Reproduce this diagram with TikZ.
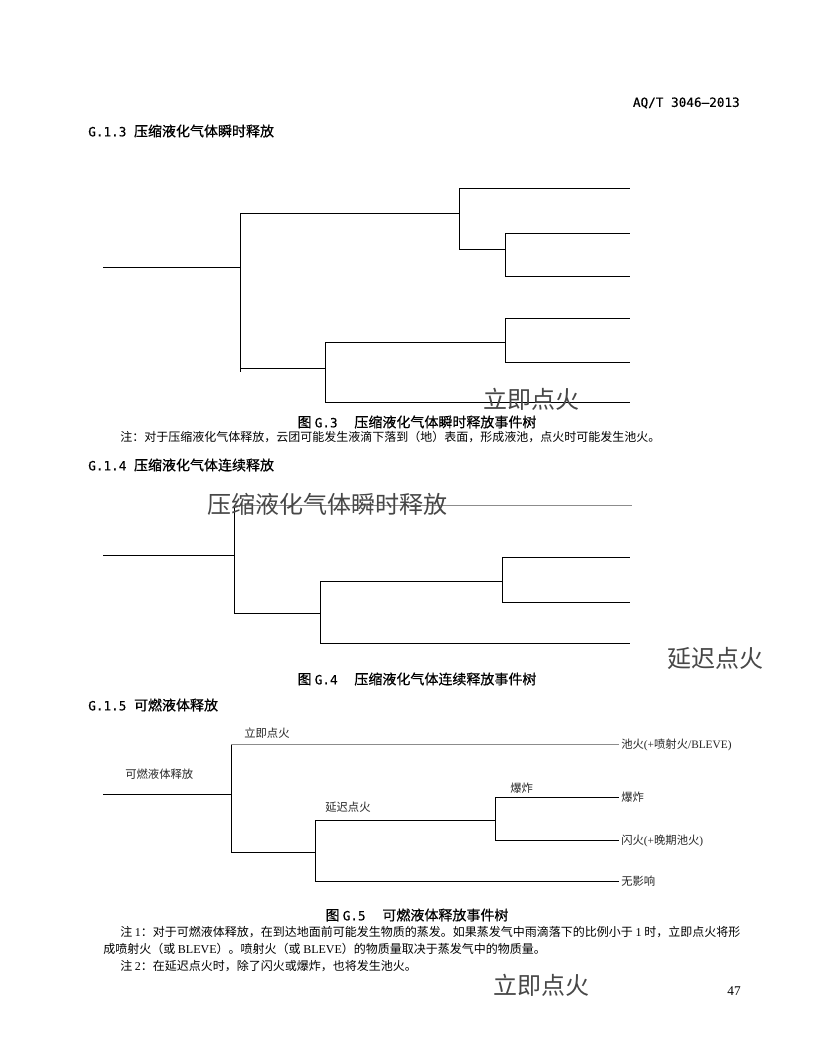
\documentclass[tikz,border=0pt]{standalone}
\usepackage{fontspec}
\setmainfont{Liberation Serif}
\newfontfamily\cjk{Noto Sans CJK SC}
\newfontfamily\cjkb[FakeBold=0.6]{Noto Sans CJK SC}
\newfontfamily\mono{DejaVu Sans Mono}
\newfontfamily\monob[FakeBold=0.4]{DejaVu Sans Mono}
\newcommand\C[1]{{\cjk #1}}
\newcommand\M[1]{{\monob\fontsize{9.5}{12}\selectfont #1}}
\tikzset{
  ln/.style={line width=0.7pt, black},
  faint/.style={line width=0.7pt, black!45},
  headtxt/.style={anchor=west, inner sep=0pt, font=\cjkb\fontsize{10.5}{12}\selectfont},
  captxt/.style={inner sep=0pt, font=\cjkb\fontsize{10.5}{12}\selectfont},
  notetxt/.style={anchor=west, inner sep=0pt, font=\fontsize{9}{11}\selectfont},
  bigtxt/.style={inner sep=0pt, font=\cjk\fontsize{18}{20}\selectfont, text=black!72},
  labtxt/.style={anchor=west, inner sep=0pt, font=\fontsize{8.5}{10}\selectfont, text=black!85},
}
\begin{document}
\begin{tikzpicture}[x=0.75pt, y=-0.75pt]
\fill[white] (0,0) rectangle (816,1056);
\useasboundingbox (0,0) rectangle (816,1056);

% header
\node[anchor=east, inner sep=0pt, font=\monob\fontsize{9.5}{12}\selectfont] (hdr) at (740,103) {AQ/T 3046—2013};

% ---------------- G.1.3 ----------------
\node[headtxt] (h1) at (88,131) {\M{G.1.3 }压缩液化气体瞬时释放};
\coordinate (a0) at (103,267);
\coordinate (a1) at (240,267);
\coordinate (a2) at (459,213);
\coordinate (a3) at (505,249);
\coordinate (a4) at (325,368);
\coordinate (a5) at (505,342);
\coordinate (as) at (240,372);
\coordinate (ae1) at (630,188);
\coordinate (ae2) at (630,233);
\coordinate (ae3) at (630,276);
\coordinate (ae4) at (630,318);
\coordinate (ae5) at (630,362);
\coordinate (ae6) at (630,402);
\draw[ln] (a0) -- (a1);
\draw[ln] (a1) |- (a2);
\draw[ln] (a1) -- (as);
\draw[ln] (a2) |- (ae1);
\draw[ln] (a2) |- (a3);
\draw[ln] (a3) |- (ae2);
\draw[ln] (a3) |- (ae3);
\draw[ln] (a1) |- (a4);
\draw[ln] (a4) |- (a5);
\draw[ln] (a5) |- (ae4);
\draw[ln] (a5) |- (ae5);
\draw[ln] (a4) |- (ae6);
\node[bigtxt] (b1) at (531,399) {立即点火};
\node[captxt] (c1) at (417,422) {图 \M{G.3}\hspace{1.2em}压缩液化气体瞬时释放事件树};
\node[notetxt] (n1) at (120,437) {\C{注：对于压缩液化气体释放，云团可能发生液滴下落到（地）表面，形成液池，点火时可能发生池火。}};

% ---------------- G.1.4 ----------------
\node[headtxt] (h2) at (88,465) {\M{G.1.4 }压缩液化气体连续释放};
\coordinate (b0) at (103,555);
\coordinate (b1j) at (234,555);
\coordinate (bt) at (234,505);
\coordinate (b2) at (320,613);
\coordinate (b3) at (502,581);
\coordinate (be1) at (632,505);
\coordinate (be2) at (630,557);
\coordinate (be3) at (630,602);
\coordinate (be4) at (630,643);
\draw[ln] (b0) -- (b1j);
\draw[ln] (b1j) -- (bt);
\draw[faint] (bt) -- (be1);
\draw[ln] (b1j) |- (b2);
\draw[ln] (b2) |- (b3);
\draw[ln] (b3) |- (be2);
\draw[ln] (b3) |- (be3);
\draw[ln] (b2) |- (be4);
\node[bigtxt] (b2t) at (327,504) {压缩液化气体瞬时释放};
\node[bigtxt] (b3t) at (715,658) {延迟点火};
\node[captxt] (c2) at (417,679) {图 \M{G.4}\hspace{1.2em}压缩液化气体连续释放事件树};

% ---------------- G.1.5 ----------------
\node[headtxt] (h3) at (88,705) {\M{G.1.5 }可燃液体释放};
\coordinate (c0) at (103,794);
\coordinate (c1j) at (231,794);
\coordinate (ct) at (231,744);
\coordinate (c2j) at (315,852);
\coordinate (c3j) at (495,820);
\coordinate (ce1) at (619,744);
\coordinate (ce2) at (619,797);
\coordinate (ce3) at (619,840);
\coordinate (ce4) at (619,881);
\draw[ln] (c0) -- (c1j);
\draw[ln] (c1j) -- (ct);
\draw[faint] (ct) -- (ce1);
\draw[ln] (c1j) |- (c2j);
\draw[ln] (c2j) |- (c3j);
\draw[ln] (c3j) |- (ce2);
\draw[ln] (c3j) |- (ce3);
\draw[ln] (c2j) |- (ce4);
\node[labtxt] (l1) at (244,733) {\C{立即点火}};
\node[labtxt] (l2) at (125,774) {\C{可燃液体释放}};
\node[labtxt] (l3) at (325,807) {\C{延迟点火}};
\node[labtxt] (l4) at (510,788) {\C{爆炸}};
\node[labtxt] (r1) at (621,745) {\C{池火}(+\C{喷射火}/BLEVE)};
\node[labtxt] (r2) at (621,797) {\C{爆炸}};
\node[labtxt] (r3) at (621,841) {\C{闪火}(+\C{晚期池火})};
\node[labtxt] (r4) at (621,881) {\C{无影响}};
\node[captxt] (c3) at (417,915) {图 \M{G.5}\hspace{1.2em}可燃液体释放事件树};
\node[notetxt] (n2) at (120,932) {\C{注 }1\C{：对于可燃液体释放，在到达地面前可能发生物质的蒸发。如果蒸发气中雨滴落下的比例小于 }1\C{ 时，立即点火将形}};
\node[notetxt] (n3) at (103,949) {\C{成喷射火（或 }BLEVE\C{）。喷射火（或 }BLEVE\C{）的物质量取决于蒸发气中的物质量。}};
\node[notetxt] (n4) at (120,966) {\C{注 }2\C{：在延迟点火时，除了闪火或爆炸，也将发生池火。}};
\node[bigtxt] (b4) at (541,985) {立即点火};
\node[anchor=east, inner sep=0pt, font=\fontsize{10}{12}\selectfont] (pg) at (741,991) {47};
\end{tikzpicture}
\end{document}
